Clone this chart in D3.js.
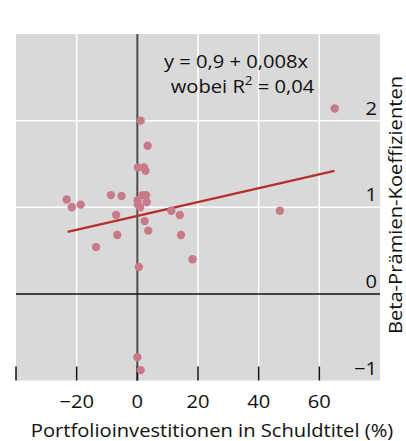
<!DOCTYPE html>
<html>
<head>
<meta charset="utf-8">
<script src="https://cdn.jsdelivr.net/npm/d3@7"></script>
<style>
  body { margin: 0; background: #fff; }
  text { font-family: "Open Sans", "Noto Sans", sans-serif; fill: #111; }
</style>
</head>
<body>
<svg width="406" height="441"></svg>
<script>
// scatter: portfolio investment in debt (%) vs beta premium coefficient
let debtShare = [65.1, 1.1, 3.4, 0.2, 2.2, 2.7, -23.3, -21.6, -18.7, -8.7, -5.2, 1.7, 2.9,
  0.1, 3.1, 0.2, 0.9, 11.2, 14.0, 47.0, -7.0, 2.4, 3.6, -6.6, 14.4, -13.6, 18.2, 0.5, 0.0, 1.1]
let betaCoef = [2.14, 2.0, 1.71, 1.46, 1.46, 1.42, 1.09, 1.0, 1.03, 1.14, 1.13, 1.14, 1.14,
  1.08, 1.06, 1.03, 1.0, 0.96, 0.91, 0.96, 0.91, 0.84, 0.73, 0.68, 0.68, 0.54, 0.40, 0.31, -0.73, -0.88]

// fitted line end points
let fitX = [-23, 65]
let fitY = [0.716, 1.42]

let xTicks = [-40, -20, 0, 20, 40, 60]
let xLabels = [-20, 0, 20, 40, 60]
let yTicks = [-1, 0, 1, 2]

let svg = d3.select('svg')
let x = d3.scaleLinear().domain([-40, 80]).range([16, 380])
let y = d3.scaleLinear().domain([-1, 3]).range([380.5, 34])
let fmt = d => d < 0 ? '\u2212' + Math.abs(d) : String(d)
let stretch = 1.12 // the reference type is a bit wider than Open Sans

svg.append('rect')
  .attr('x', x(-40)).attr('y', y(3))
  .attr('width', x(80) - x(-40)).attr('height', y(-1) - y(3))
  .attr('fill', '#d9d9d9')

// white grid
svg.selectAll('line.vgrid').data(xLabels.filter(d => d !== 0)).enter().append('line')
  .attr('class', 'vgrid')
  .attr('x1', d => x(d)).attr('x2', d => x(d))
  .attr('y1', y(3)).attr('y2', y(-1))
  .attr('stroke', '#fff').attr('stroke-width', 1.5)

svg.selectAll('line.hgrid').data([1, 2]).enter().append('line')
  .attr('class', 'hgrid')
  .attr('x1', x(-40)).attr('x2', x(80))
  .attr('y1', d => y(d)).attr('y2', d => y(d))
  .attr('stroke', '#fff').attr('stroke-width', 1.5)

// zero lines
svg.append('line')
  .attr('x1', x(0)).attr('x2', x(0)).attr('y1', y(3)).attr('y2', y(-1))
  .attr('stroke', '#4d4d4d').attr('stroke-width', 2)
svg.append('line')
  .attr('x1', x(-40)).attr('x2', x(80)).attr('y1', y(0)).attr('y2', y(0))
  .attr('stroke', '#111').attr('stroke-width', 1.5)

// bottom ticks (inward)
svg.selectAll('line.xtick').data(xTicks).enter().append('line')
  .attr('class', 'xtick')
  .attr('x1', d => x(d)).attr('x2', d => x(d))
  .attr('y1', y(-1) - 14).attr('y2', y(-1))
  .attr('stroke', '#111').attr('stroke-width', 1.5)

svg.selectAll('text.xlabel').data(xLabels).enter().append('text')
  .attr('class', 'xlabel')
  .attr('transform', d => `translate(${x(d)},408) scale(${stretch},1)`)
  .attr('text-anchor', 'middle')
  .attr('font-size', 18)
  .text(fmt)

svg.selectAll('text.ylabel').data(yTicks).enter().append('text')
  .attr('class', 'ylabel')
  .attr('transform', d => `translate(377,${y(d) - 6}) scale(${stretch},1)`)
  .attr('text-anchor', 'end')
  .attr('font-size', 18)
  .text(fmt)

// regression line
svg.append('line')
  .attr('x1', x(fitX[0])).attr('y1', y(fitY[0]))
  .attr('x2', x(fitX[1])).attr('y2', y(fitY[1]))
  .attr('stroke', '#b5302b').attr('stroke-width', 2.5)

svg.selectAll('circle').data(debtShare).enter().append('circle')
  .attr('cx', d => x(d))
  .attr('cy', (d, i) => y(betaCoef[i]))
  .attr('r', 4.2)
  .attr('fill', '#c87a8a')

// equation
svg.append('text')
  .attr('transform', `translate(236,68) scale(${stretch},1)`)
  .attr('text-anchor', 'middle').attr('font-size', 18)
  .text('y = 0,9 + 0,008x')
let r2 = svg.append('text')
  .attr('transform', `translate(242.5,93) scale(${stretch},1)`)
  .attr('text-anchor', 'middle').attr('font-size', 18)
r2.append('tspan').text('wobei R')
r2.append('tspan').attr('dy', -8).attr('font-size', 12).text('2')
r2.append('tspan').attr('dy', 8).text(' = 0,04')

// axis titles
svg.append('text')
  .attr('transform', `translate(212,437) scale(${stretch},1)`)
  .attr('text-anchor', 'middle').attr('font-size', 18)
  .text('Portfolioinvestitionen in Schuldtitel (%)')
svg.append('text')
  .attr('transform', `translate(402,205) rotate(-90) scale(${stretch},1)`)
  .attr('text-anchor', 'middle').attr('font-size', 18)
  .text('Beta-Prämien-Koeffizienten')
</script>
</body>
</html>
